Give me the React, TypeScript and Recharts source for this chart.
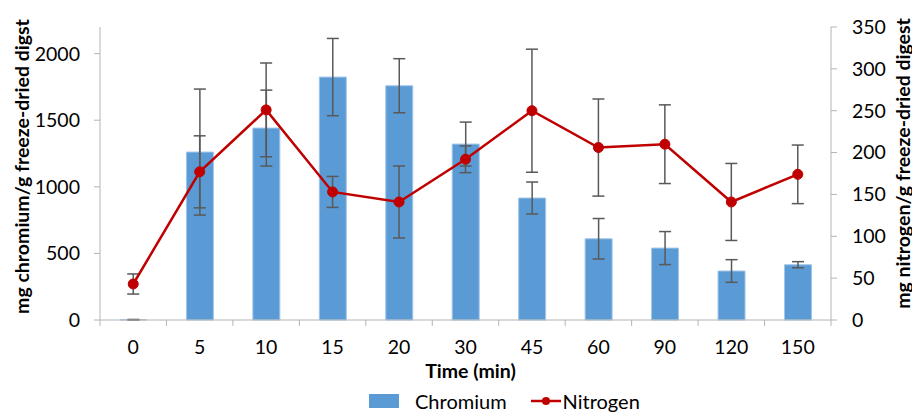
import React from "react";
import { ComposedChart, Bar, Line, XAxis, YAxis, ErrorBar, Legend } from "recharts";

// sampling times (min)
const times = ["0", "5", "10", "15", "20", "30", "45", "60", "90", "120", "150"];
// mg chromium / g freeze-dried digest (left axis)
const chromium = [2, 1261, 1441, 1824, 1759, 1321, 916, 610, 540, 368, 415];
const chromiumErr = [2, 473, 285, 290, 203, 165, 120, 152, 124, 85, 23];
// mg nitrogen / g freeze-dried digest (right axis)
const nitrogen = [43, 177, 251, 153, 141, 192, 250, 206, 210, 141, 174];
const nitrogenErr = [12, 43, 56, 18.5, 43, 16, 73.5, 58, 47, 46, 35];

const leftTicks = [0, 500, 1000, 1500, 2000];
const rightTicks = [0, 50, 100, 150, 200, 250, 300, 350];

const rows = times.map((t, i) => ({
  time: t,
  chromium: chromium[i],
  chromiumErr: chromiumErr[i],
  nitrogen: nitrogen[i],
  nitrogenErr: nitrogenErr[i],
}));

const font = "Lato, 'Open Sans', sans-serif";
const axisGray = "#B4B4B4";
const blue = "#5B9BD5";
const red = "#C00000";
const errGray = "#595959";
const tickFont = 19.5;
const titleFont = 19.5;

function TimeTick(props: any) {
  const { x, y, payload, index, visibleTicksCount } = props;
  const half = payload.offset || 33.25;
  const axisY = y - 6 - 14;
  return (
    <g>
      <line x1={x - half} x2={x - half} y1={axisY} y2={axisY + 6} stroke={axisGray} />
      {index === visibleTicksCount - 1 && (
        <line x1={x + half} x2={x + half} y1={axisY} y2={axisY + 6} stroke={axisGray} />
      )}
      <text x={x} y={y} dy="0.71em" textAnchor="middle" fill="#000" fontSize={tickFont} fontFamily={font}>
        {payload.value}
      </text>
    </g>
  );
}

function LegendBox() {
  return (
    <div
      style={{
        height: 30,
        display: "flex",
        alignItems: "center",
        paddingLeft: 369,
        paddingTop: 3,
        boxSizing: "border-box",
        fontFamily: font,
        fontSize: 20,
        color: "#000",
      }}
    >
      <span style={{ width: 30, height: 14, background: blue, display: "inline-block" }} />
      <span style={{ marginLeft: 16 }}>Chromium</span>
      <svg width={30} height={14} style={{ marginLeft: 24 }}>
        <line x1={0} x2={30} y1={7} y2={7} stroke={red} strokeWidth={2.5} />
        <circle cx={15} cy={7} r={4} fill={red} />
      </svg>
      <span style={{ marginLeft: 2 }}>Nitrogen</span>
    </div>
  );
}

export default function App() {
  return (
    <div style={{ position: "absolute", left: 0, top: 0, background: "#fff" }}>
      <ComposedChart
        width={912}
        height={414}
        data={rows}
        margin={{ top: 27, right: 0, left: 0, bottom: 0 }}
        barCategoryGap="30%"
        style={{ fontFamily: font }}
      >
        <XAxis
          dataKey="time"
          height={64}
          tickSize={6}
          tickMargin={14}
          tickLine={false}
          axisLine={{ stroke: axisGray }}
          tick={<TimeTick />}
          interval={0}
          label={{
            content: (p: any) => {
              const vb = p.viewBox;
              return (
                <text
                  x={vb.x + vb.width / 2 + 5}
                  y={vb.y + 58}
                  textAnchor="middle"
                  fontWeight="bold"
                  fontSize={titleFont}
                  fontFamily={font}
                  fill="#000"
                >
                  Time (min)
                </text>
              );
            },
          }}
        />
        <YAxis
          yAxisId="left"
          width={100}
          domain={[0, 2200]}
          ticks={leftTicks}
          tickSize={6}
          tickMargin={14}
          axisLine={{ stroke: axisGray }}
          tickLine={{ stroke: axisGray }}
          tick={{ fill: "#000", fontSize: tickFont, fontFamily: font }}
          label={{
            content: (p: any) => {
              const vb = p.viewBox;
              return (
                <text
                  transform={`translate(21, ${vb.y + vb.height / 2 - 7}) rotate(-90)`}
                  textAnchor="middle"
                  dominantBaseline="central"
                  fontWeight="bold"
                  fontSize={titleFont}
                  fontFamily={font}
                  fill="#000"
                >
                  mg chromium/g freeze-dried digst
                </text>
              );
            },
          }}
        />
        <YAxis
          yAxisId="right"
          orientation="right"
          width={81}
          domain={[0, 350]}
          ticks={rightTicks}
          tickSize={6}
          tickMargin={15}
          axisLine={{ stroke: axisGray }}
          tickLine={{ stroke: axisGray }}
          tick={{ fill: "#000", fontSize: tickFont, fontFamily: font }}
          label={{
            content: (p: any) => {
              const vb = p.viewBox;
              return (
                <text
                  transform={`translate(902, ${vb.y + vb.height / 2 - 10}) rotate(-90)`}
                  textAnchor="middle"
                  dominantBaseline="central"
                  fontWeight="bold"
                  fontSize={titleFont}
                  fontFamily={font}
                  fill="#000"
                >
                  mg nitrogen/g freeze-dried digest
                </text>
              );
            },
          }}
        />
        <Legend verticalAlign="bottom" content={() => <LegendBox />} />
        <Bar yAxisId="left" dataKey="chromium" name="Chromium" fill={blue} stroke="#A3C6E8" strokeWidth={1} isAnimationActive={false}>
          <ErrorBar dataKey="chromiumErr" width={6} stroke={errGray} strokeWidth={1.5} direction="y" />
        </Bar>
        <Line
          yAxisId="right"
          dataKey="nitrogen"
          name="Nitrogen"
          stroke={red}
          strokeWidth={2.5}
          dot={{ r: 5, fill: red, stroke: red, strokeWidth: 1 }}
          isAnimationActive={false}
        >
          <ErrorBar dataKey="nitrogenErr" width={6} stroke={errGray} strokeWidth={1.5} direction="y" />
        </Line>
      </ComposedChart>
    </div>
  );
}
